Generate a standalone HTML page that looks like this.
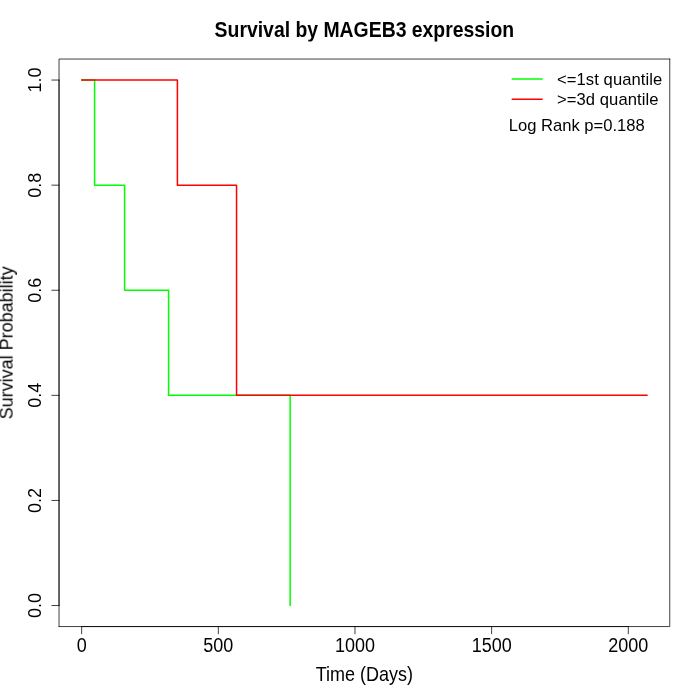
<!DOCTYPE html>
<html><head><meta charset="utf-8">
<style>
html,body{margin:0;padding:0;background:#fff;}
body{width:700px;height:700px;overflow:hidden;font-family:"Liberation Sans",sans-serif;}
svg{display:block;}
.t{opacity:0.999;}
text{font-family:"Liberation Sans",sans-serif;fill:#000;}
</style></head><body>
<svg width="700" height="700" viewBox="0 0 700 700" xmlns="http://www.w3.org/2000/svg">
<rect width="700" height="700" fill="#fff"/>
<!-- curves -->
<g fill="none" stroke-width="1.5" stroke-linecap="round" stroke-linejoin="round">
<path stroke="#00ff00" d="M81.66 80.06H94.6V185.16H124.6V290.25H168.6V395.35H290.15V605.54"/>
<path stroke="#ff0000" d="M81.66 80.06H177.4V185.16H236.55V395.35H647.14"/>
</g>
<!-- axes -->
<g fill="none" stroke="#000" stroke-width="0.75" stroke-linecap="round" stroke-linejoin="round">
<path d="M81.66 626.56H628.3"/>
<path d="M81.66 626.56v7.2M218.32 626.56v7.2M354.98 626.56v7.2M491.64 626.56v7.2M628.3 626.56v7.2"/>
<path d="M59.04 605.54V80.06"/>
<path d="M59.04 605.54h-7.2M59.04 500.44h-7.2M59.04 395.35h-7.2M59.04 290.25h-7.2M59.04 185.16h-7.2M59.04 80.06h-7.2"/>
<path d="M59.04 626.56V59.04H669.76"/><path d="M669.76 59.04V626.56H59.04"/>
</g>
<g class="t">
<!-- x tick labels -->
<g font-size="18" text-anchor="middle">
<text transform="translate(81.66 651.5) scale(1 1.08)">0</text>
<text transform="translate(218.32 651.5) scale(1 1.08)">500</text>
<text transform="translate(354.98 651.5) scale(1 1.08)">1000</text>
<text transform="translate(491.64 651.5) scale(1 1.08)">1500</text>
<text transform="translate(628.3 651.5) scale(1 1.08)">2000</text>
</g>
<!-- y tick labels -->
<g font-size="18" text-anchor="middle">
<text transform="translate(41 605.54) rotate(-90)">0.0</text>
<text transform="translate(41 500.44) rotate(-90)">0.2</text>
<text transform="translate(41 395.35) rotate(-90)">0.4</text>
<text transform="translate(41 290.25) rotate(-90)">0.6</text>
<text transform="translate(41 185.16) rotate(-90)">0.8</text>
<text transform="translate(41 80.06) rotate(-90)">1.0</text>
</g>
<!-- titles -->
<text transform="translate(364.4 37) scale(1 1.13)" font-size="19.4" font-weight="bold" text-anchor="middle">Survival by MAGEB3 expression</text>
<text transform="translate(364.4 681) scale(1 1.08)" font-size="18" text-anchor="middle">Time (Days)</text>
<text transform="translate(12.6 342.8) rotate(-90)" font-size="18" text-anchor="middle">Survival Probability</text>
<g font-size="16.6">
<text x="557" y="84.7" textLength="105.3">&lt;=1st quantile</text>
<text x="557" y="104.8" textLength="101.4">&gt;=3d quantile</text>
<text x="508.7" y="130.8">Log Rank p=0.188</text>
</g>
</g>
<!-- legend -->
<g fill="none" stroke-width="1.5" stroke-linecap="round">
<path stroke="#00ff00" d="M512.2 79H542.1"/>
<path stroke="#ff0000" d="M512.2 99.3H542.1"/>
</g>
</svg>
</body></html>
